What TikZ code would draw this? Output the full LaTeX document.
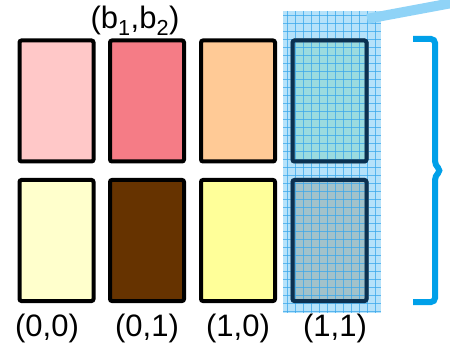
\documentclass[tikz,border=0pt]{standalone}
\usepackage{fontspec}
\setmainfont{Liberation Sans}
\definecolor{pinklight}{HTML}{FFC8C8}
\definecolor{pinkdark}{HTML}{F57C86}
\definecolor{peach}{HTML}{FFCA96}
\definecolor{mint}{HTML}{B4EAB4}
\definecolor{creamlight}{HTML}{FFFFCC}
\definecolor{brown}{HTML}{663300}
\definecolor{lemon}{HTML}{FFFF99}
\definecolor{tan}{HTML}{C8A478}
\definecolor{skyfill}{HTML}{8FD3F7}
\definecolor{skygrid}{HTML}{3AA8EC}
\definecolor{navy}{HTML}{0B3050}
\definecolor{bracecol}{HTML}{00A0E9}
\tikzset{
  cell/.style={draw=black, line width=4pt, rounded corners=2pt, minimum width=74pt, minimum height=121pt, inner sep=0pt},
  lbl/.style={inner sep=0pt, font=\fontsize{31}{34}\selectfont},
  rim/.style={draw=navy, line width=4pt, rounded corners=2pt}
}
\begin{document}
\begin{tikzpicture}[x=1pt, y=-1pt]
\useasboundingbox (0,0) rectangle (450,350);
\node[cell, fill=pinklight] (c00top) at (56.5,101) {};
\node[cell, fill=pinkdark] (c01top) at (147,101) {};
\node[cell, fill=peach] (c10top) at (238,101) {};
\node[cell, fill=mint] (c11top) at (329.5,101) {};
\node[cell, fill=creamlight] (c00bot) at (56.5,240.5) {};
\node[cell, fill=brown] (c01bot) at (147,240.5) {};
\node[cell, fill=lemon] (c10bot) at (238,240.5) {};
\node[cell, fill=tan] (c11bot) at (329.5,240.5) {};
% highlighted column
\node[fill=skyfill, fill opacity=0.65, minimum width=98pt, minimum height=302pt, inner sep=0pt] (pick) at (332,162) {};
\foreach \gx in {287,295,...,379}
  \draw[skygrid, line width=0.7pt, opacity=0.75] (\gx,11) -- (\gx,313);
\foreach \gy in {15,23,...,311}
  \draw[skygrid, line width=0.7pt, opacity=0.75] (283,\gy) -- (381,\gy);
\draw[rim] ([xshift=2pt,yshift=-2pt]c11top.north west) rectangle ([xshift=-2pt,yshift=2pt]c11top.south east);
\draw[rim] ([xshift=2pt,yshift=-2pt]c11bot.north west) rectangle ([xshift=-2pt,yshift=2pt]c11bot.south east);
\coordinate (edge) at (452,3);
\draw[skyfill, line width=10pt] ([xshift=-14pt,yshift=-8pt]pick.north east) -- (edge);
% brace
\draw[bracecol, line width=6pt, rounded corners=4pt] (413,39) -- (435,39) -- (435,165) -- (441,170.5) -- (435,176) -- (435,302) -- (413,302);
% labels
\node[lbl] (pair) at (135,21) {(b\textsubscript{1},b\textsubscript{2})};
\node[lbl] (l00) at (47,328) {(0,0)};
\node[lbl] (l01) at (147,328) {(0,1)};
\node[lbl] (l10) at (238,328) {(1,0)};
\node[lbl] (l11) at (335,328) {(1,1)};
\end{tikzpicture}
\end{document}
